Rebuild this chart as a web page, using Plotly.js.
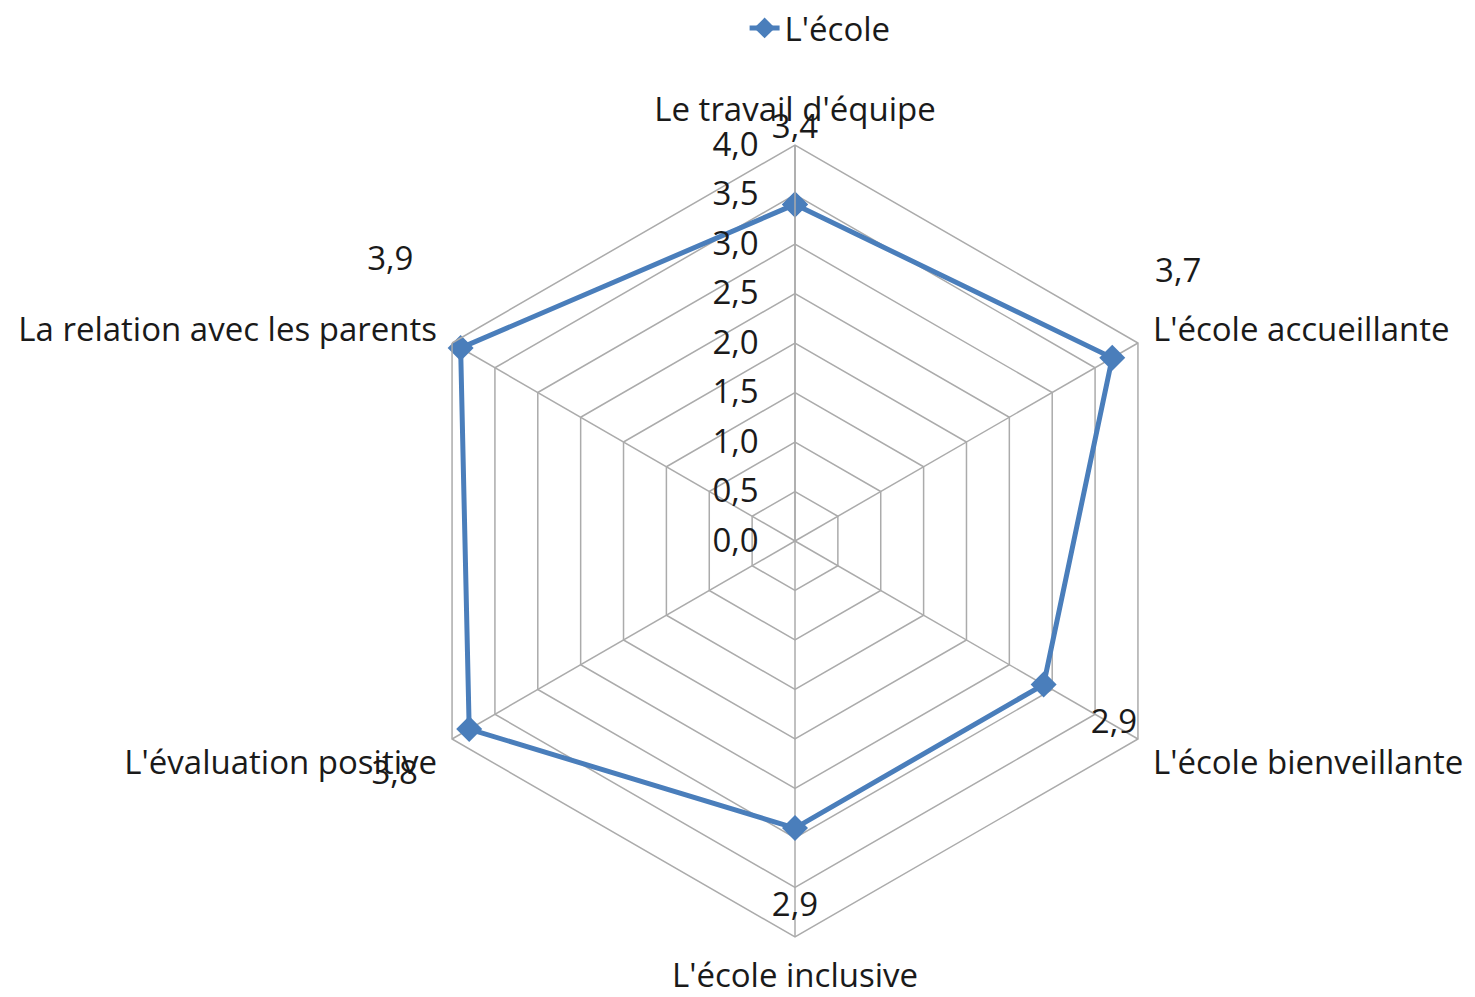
<!DOCTYPE html>
<html>
<head>
<meta charset="utf-8">
<script src="https://cdn.plot.ly/plotly-3.0.1.min.js"></script>
<style>html,body{margin:0;padding:0;background:#fff;}#chart{width:1475px;height:997px;}</style>
</head>
<body>
<div id="chart"></div>
<script>
// ---- data ----
const seriesName = "L'école";
const categories = ["Le travail d'équipe", "L'école accueillante", "L'école bienveillante", "L'école inclusive", "L'évaluation positive", "La relation avec les parents"];
const values = [3.4, 3.7, 2.9, 2.9, 3.8, 3.9];
const radialTicks = [0, 0.5, 1, 1.5, 2, 2.5, 3, 3.5, 4];

// ---- style ----
const FONT = "Open Sans, sans-serif";
const FS = 33;
const TXT = "#1a1a1a";
const BLUE = "#4a7ebb";
const GRID = "#ababab";
// data-label placement (radius on the label layer, text position, extra blank lines)
const labelR = [4.15, 4.2, 3.72, 3.7, 4.4, 4.45];
const labelPos = ["middle center", "top right", "middle center", "middle center", "bottom left", "top left"];
const labelLift = [0, 1, 0, 0, 0, 1];

const fmt = v => v.toFixed(1).replace('.', ',');

const cx = 795, cy = 541, R = 396, W = 1475, H = 997;
const RMAX = 4, RMAX2 = 4.6, R2 = R * RMAX2 / RMAX;

const traces = [
  {
    type: 'scatterpolar',
    subplot: 'polar',
    r: values.concat([values[0]]),
    theta: categories.concat([categories[0]]),
    mode: 'lines+markers',
    name: seriesName,
    line: {color: BLUE, width: 5},
    marker: {symbol: 'diamond', size: 20, color: BLUE},
    hoverinfo: 'skip'
  },
  {
    type: 'scatterpolar',
    subplot: 'polar2',
    r: labelR,
    theta: categories,
    mode: 'text',
    text: values.map((v, i) => fmt(v) + (labelLift[i] ? '<br> ' : '')),
    textposition: labelPos,
    textfont: {family: FONT, size: FS, color: TXT},
    showlegend: false,
    hoverinfo: 'skip',
    cliponaxis: false
  }
];

const layout = {
  width: W, height: H,
  margin: {l: 0, r: 0, t: 0, b: 0},
  paper_bgcolor: '#fff',
  font: {family: FONT, size: FS, color: TXT},
  separators: ', ',
  showlegend: true,
  legend: {orientation: 'h', x: 0.556, xanchor: 'center', y: 1.0, yanchor: 'top', font: {family: FONT, size: FS, color: TXT}},
  polar: {
    domain: {x: [(cx - R) / W, (cx + R) / W], y: [(H - cy - R) / H, (H - cy + R) / H]},
    gridshape: 'linear',
    bgcolor: 'rgba(0,0,0,0)',
    angularaxis: {
      rotation: 90, direction: 'clockwise',
      linecolor: GRID, linewidth: 1.5,
      gridcolor: GRID, gridwidth: 1.5,
      ticks: 'outside', ticklen: 10, tickcolor: 'rgba(0,0,0,0)',
      tickfont: {family: FONT, size: FS, color: TXT}
    },
    radialaxis: {
      range: [0, RMAX], tickvals: radialTicks, ticktext: radialTicks.map(fmt),
      angle: 90, side: 'counterclockwise',
      showline: true, linecolor: GRID, linewidth: 1.5,
      gridcolor: GRID, gridwidth: 1.5,
      ticks: 'outside', ticklen: 24, tickcolor: 'rgba(0,0,0,0)', tickangle: 90,
      tickfont: {family: FONT, size: FS, color: TXT}
    }
  },
  polar2: {
    domain: {x: [(cx - R2) / W, (cx + R2) / W], y: [Math.max(0, (H - cy - R2) / H), (H - cy + R2) / H]},
    gridshape: 'linear',
    bgcolor: 'rgba(0,0,0,0)',
    angularaxis: {rotation: 90, direction: 'clockwise', visible: false, showgrid: false, showline: false, showticklabels: false, ticks: ''},
    radialaxis: {range: [0, RMAX2], visible: false, showgrid: false, showline: false, showticklabels: false, ticks: ''}
  }
};

Plotly.newPlot('chart', traces, layout, {displayModeBar: false, staticPlot: true});
</script>
</body>
</html>
